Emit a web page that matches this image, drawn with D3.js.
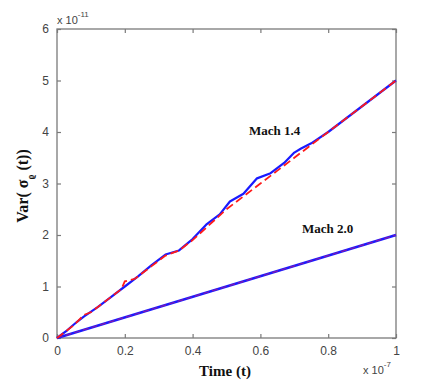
<!DOCTYPE html>
<html>
<head>
<meta charset="utf-8">
<script src="https://cdn.jsdelivr.net/npm/d3@7"></script>
<style>
  html, body { margin: 0; padding: 0; background: #fff; }
  svg { display: block; }
</style>
</head>
<body>
<svg id="chart" width="436" height="382"></svg>
<script>
// Data (time in units of 1e-7, variance in units of 1e-11)
const xTicks = [0, 0.2, 0.4, 0.6, 0.8, 1];
const xTickLabels = ["0", "0.2", "0.4", "0.6", "0.8", "1"];
const yTicks = [0, 1, 2, 3, 4, 5, 6];
const yTickLabels = ["0", "1", "2", "3", "4", "5", "6"];

const mach14BlueT = [0, 0.03, 0.06, 0.08, 0.12, 0.16, 0.2, 0.24, 0.28, 0.32, 0.36, 0.4, 0.44, 0.48, 0.51, 0.55, 0.59, 0.63, 0.67, 0.7, 0.72, 0.75, 0.8, 0.9, 1.0];
const mach14BlueV = [0, 0.15, 0.32, 0.42, 0.6, 0.8, 1.0, 1.2, 1.42, 1.62, 1.7, 1.92, 2.2, 2.4, 2.65, 2.8, 3.1, 3.2, 3.4, 3.6, 3.68, 3.78, 4.0, 4.5, 5.0];
const mach14RedT = [0, 0.05, 0.08, 0.1, 0.15, 0.19, 0.2, 0.23, 0.28, 0.32, 0.36, 0.4, 0.45, 0.5, 0.55, 0.6, 0.65, 0.7, 0.74, 0.8, 0.9, 1.0];
const mach14RedV = [0, 0.25, 0.45, 0.5, 0.75, 0.95, 1.1, 1.15, 1.4, 1.6, 1.7, 1.9, 2.2, 2.5, 2.75, 3.0, 3.25, 3.5, 3.7, 4.0, 4.5, 5.0];
const mach20T = [0, 0.25, 0.5, 0.75, 1.0];
const mach20BlueV = [0, 0.5, 1.0, 1.5, 2.0];
const mach20RedV = [0, 0.5, 1.0, 1.5, 2.0];

const svg = d3.select("#chart");
const pL = 57, pR = 396, pT = 29, pB = 338;

const x = d3.scaleLinear().domain([0, 1]).range([pL, pR]);
const y = d3.scaleLinear().domain([0, 6]).range([pB, pT]);

const axisColor = "#7a7a7a";
const labelColor = "#444";
const tickLen = 4;

// Box
svg.append("rect").attr("x", pL).attr("y", pT)
  .attr("width", pR - pL).attr("height", pB - pT)
  .attr("fill", "none").attr("stroke", axisColor).attr("stroke-width", 1.3);

// Axes via d3
const xAxisB = d3.axisBottom(x).tickValues(xTicks).tickFormat((d, i) => xTickLabels[i]).tickSizeInner(-tickLen).tickSizeOuter(0).tickPadding(8);
const xAxisT = d3.axisTop(x).tickValues(xTicks).tickFormat("").tickSizeInner(-tickLen).tickSizeOuter(0);
const yAxisL = d3.axisLeft(y).tickValues(yTicks).tickFormat((d, i) => yTickLabels[i]).tickSizeInner(-tickLen).tickSizeOuter(0).tickPadding(8);
const yAxisR = d3.axisRight(y).tickValues(yTicks).tickFormat("").tickSizeInner(-tickLen).tickSizeOuter(0);

function styleAxis(g) {
  g.select(".domain").remove();
  g.selectAll(".tick line").attr("stroke", axisColor).attr("stroke-width", 1.2);
  g.selectAll(".tick text").attr("fill", labelColor)
    .style("font-family", "Liberation Sans, Arial, sans-serif").style("font-size", "12px");
}
svg.append("g").attr("transform", `translate(0,${pB})`).call(xAxisB).call(styleAxis);
svg.append("g").attr("transform", `translate(0,${pT})`).call(xAxisT).call(styleAxis);
svg.append("g").attr("transform", `translate(${pL},0)`).call(yAxisL).call(styleAxis);
svg.append("g").attr("transform", `translate(${pR},0)`).call(yAxisR).call(styleAxis);

// Lines
const line = d3.line().x(d => x(d[0])).y(d => y(d[1]));
const zip = (a, b) => a.map((v, i) => [v, b[i]]);

svg.append("path").datum(zip(mach20T, mach20BlueV)).attr("d", line)
  .attr("fill", "none").attr("stroke", "#1a1aff").attr("stroke-width", 2.6);
svg.append("path").datum(zip(mach20T, mach20RedV)).attr("d", line)
  .attr("fill", "none").attr("stroke", "#b0188a").attr("stroke-width", 1.2).attr("stroke-dasharray", "6,3").attr("opacity", 0.7);

svg.append("path").datum(zip(mach14BlueT, mach14BlueV)).attr("d", line)
  .attr("fill", "none").attr("stroke", "#1a1aff").attr("stroke-width", 2.2).attr("stroke-linejoin", "round");
svg.append("path").datum(zip(mach14RedT, mach14RedV)).attr("d", line)
  .attr("fill", "none").attr("stroke", "#ff1a1a").attr("stroke-width", 1.8).attr("stroke-dasharray", "8,4");

// Annotations
const serif = "Liberation Serif, Times New Roman, serif";
svg.append("text").attr("x", 249).attr("y", 135).text("Mach 1.4")
  .style("font-family", serif).style("font-weight", "bold").style("font-size", "13px").attr("fill", "#111");
svg.append("text").attr("x", 302).attr("y", 233).text("Mach 2.0")
  .style("font-family", serif).style("font-weight", "bold").style("font-size", "13px").attr("fill", "#111");

// Axis labels
svg.append("text").attr("x", 225).attr("y", 376).attr("text-anchor", "middle").text("Time (t)")
  .style("font-family", serif).style("font-weight", "bold").style("font-size", "15px").attr("fill", "#111");

const yl = svg.append("text").attr("transform", "translate(28,186) rotate(-90)").attr("text-anchor", "middle")
  .style("font-family", serif).style("font-weight", "bold").style("font-size", "16px").attr("fill", "#111");
yl.append("tspan").text("Var( σ");
yl.append("tspan").text("ϱ").attr("dy", 6).style("font-size", "10px");
yl.append("tspan").text(" (t))").attr("dy", -6);

// Exponent labels
const sans = "Liberation Sans, Arial, sans-serif";
const e1 = svg.append("text").attr("x", 57).attr("y", 24).attr("fill", labelColor)
  .style("font-family", sans).style("font-size", "11px");
e1.append("tspan").text("x 10");
e1.append("tspan").text("-11").attr("dy", -7).style("font-size", "8px");

const e2 = svg.append("text").attr("x", 363).attr("y", 374).attr("fill", labelColor)
  .style("font-family", sans).style("font-size", "11px");
e2.append("tspan").text("x 10");
e2.append("tspan").text("-7").attr("dy", -7).style("font-size", "8px");
</script>
</body>
</html>
